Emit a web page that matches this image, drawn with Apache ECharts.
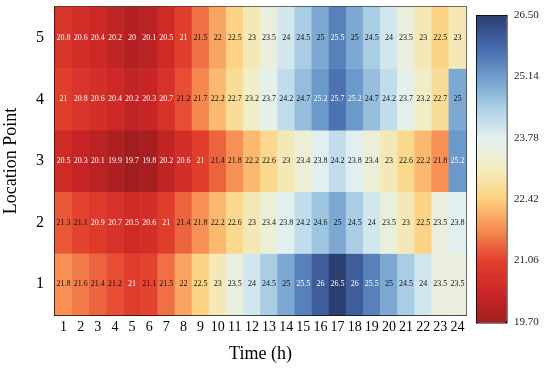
<!DOCTYPE html>
<html>
<head>
<meta charset="utf-8">
<script src="https://cdn.jsdelivr.net/npm/echarts@6/dist/echarts.min.js"></script>
<style>html,body{margin:0;padding:0;background:#fff;}#c{width:550px;height:375px;}</style>
</head>
<body>
<div id="c"></div>
<script>
const hours = ['1','2','3','4','5','6','7','8','9','10','11','12','13','14','15','16','17','18','19','20','21','22','23','24'];
const points = ['1','2','3','4','5'];
const point1 = [21.8,21.6,21.4,21.2,21,21.1,21.5,22,22.5,23,23.5,24,24.5,25,25.5,26,26.5,26,25.5,25,24.5,24,23.5,23.5];
const point2 = [21.3,21.1,20.9,20.7,20.5,20.6,21,21.4,21.8,22.2,22.6,23,23.4,23.8,24.2,24.6,25,24.5,24,23.5,23,22.5,23.5,23.8];
const point3 = [20.5,20.3,20.1,19.9,19.7,19.8,20.2,20.6,21,21.4,21.8,22.2,22.6,23,23.4,23.8,24.2,23.8,23.4,23,22.6,22.2,21.8,25.2];
const point4 = [21,20.8,20.6,20.4,20.2,20.3,20.7,21.2,21.7,22.2,22.7,23.2,23.7,24.2,24.7,25.2,25.7,25.2,24.7,24.2,23.7,23.2,22.7,25];
const point5 = [20.8,20.6,20.4,20.2,20,20.1,20.5,21,21.5,22,22.5,23,23.5,24,24.5,25,25.5,25,24.5,24,23.5,23,22.5,23];
const colorbarTicks = ['19.70','21.06','22.42','23.78','25.14','26.50'];
const palette = ['#a11d20','#cc2626','#e33f2d','#f58a50','#fdd07c','#f3edc0','#e4f0f1','#acd0e5','#6f9ecc','#4468ab','#2c3f70'];

const rows = [point1, point2, point3, point4, point5];
const data = [];
rows.forEach((r, yi) => r.forEach((v, xi) => data.push([xi, yi, v])));

const serif = 'Liberation Serif, Times New Roman, serif';
const chart = echarts.init(document.getElementById('c'));
chart.setOption({
  animation: false,
  grid: [
    {left: 55, right: 84, top: 7, bottom: 60, show: true, borderColor: '#000', borderWidth: 1.5, containLabel: false, outerBoundsMode: 'none'},
    {left: 476, width: 30, top: 15, height: 307, show: false, containLabel: false, outerBoundsMode: 'none'}
  ],
  xAxis: [
    {type: 'category', data: hours, gridIndex: 0, name: 'Time (h)', nameLocation: 'middle', nameGap: 30,
     nameTextStyle: {fontFamily: serif, fontSize: 18, color: '#000'},
     axisLine: {lineStyle: {color: '#000', width: 1.5}},
     axisTick: {inside: true, length: 5, alignWithLabel: true, lineStyle: {color: '#000', width: 1.5}},
     axisLabel: {fontFamily: serif, fontSize: 14, color: '#000', interval: 0, margin: 5},
     splitLine: {show: false}},
    {type: 'value', gridIndex: 1, show: false}
  ],
  yAxis: [
    {type: 'category', data: points, gridIndex: 0, name: 'Location Point', nameLocation: 'middle', nameGap: 35,
     nameTextStyle: {fontFamily: serif, fontSize: 18, color: '#000'},
     axisLine: {lineStyle: {color: '#000', width: 1.5}},
     axisTick: {show: true, inside: true, length: 4, alignWithLabel: true, lineStyle: {color: '#000', width: 1.5}},
     axisLabel: {fontFamily: serif, fontSize: 16, color: '#000', margin: 11}},
    {type: 'category', data: colorbarTicks, gridIndex: 1, position: 'right', boundaryGap: false,
     axisLine: {show: false},
     axisTick: {show: true, length: 5, lineStyle: {color: '#000'}},
     axisLabel: {fontFamily: serif, fontSize: 11, color: '#222', margin: 8, interval: 0},
     splitLine: {show: false}}
  ],
  visualMap: {
    type: 'continuous', min: 19.7, max: 26.5, seriesIndex: 0,
    left: 476, top: 15, itemWidth: 30, itemHeight: 307, padding: 0,
    borderColor: '#000', borderWidth: 1.5, calculable: false, text: null, showLabel: false,
    inRange: {color: palette}
  },
  series: [{
    type: 'heatmap', xAxisIndex: 0, yAxisIndex: 0,
    data: data.map(d => ({value: d, label: {color: (d[2] <= 21 || d[2] > 25.1) ? '#fff' : '#111'}})),
    itemStyle: {borderWidth: 0},
    label: {show: true, fontFamily: serif, fontSize: 8, formatter: p => String(p.value[2])}
  }]
});
</script>
</body>
</html>
